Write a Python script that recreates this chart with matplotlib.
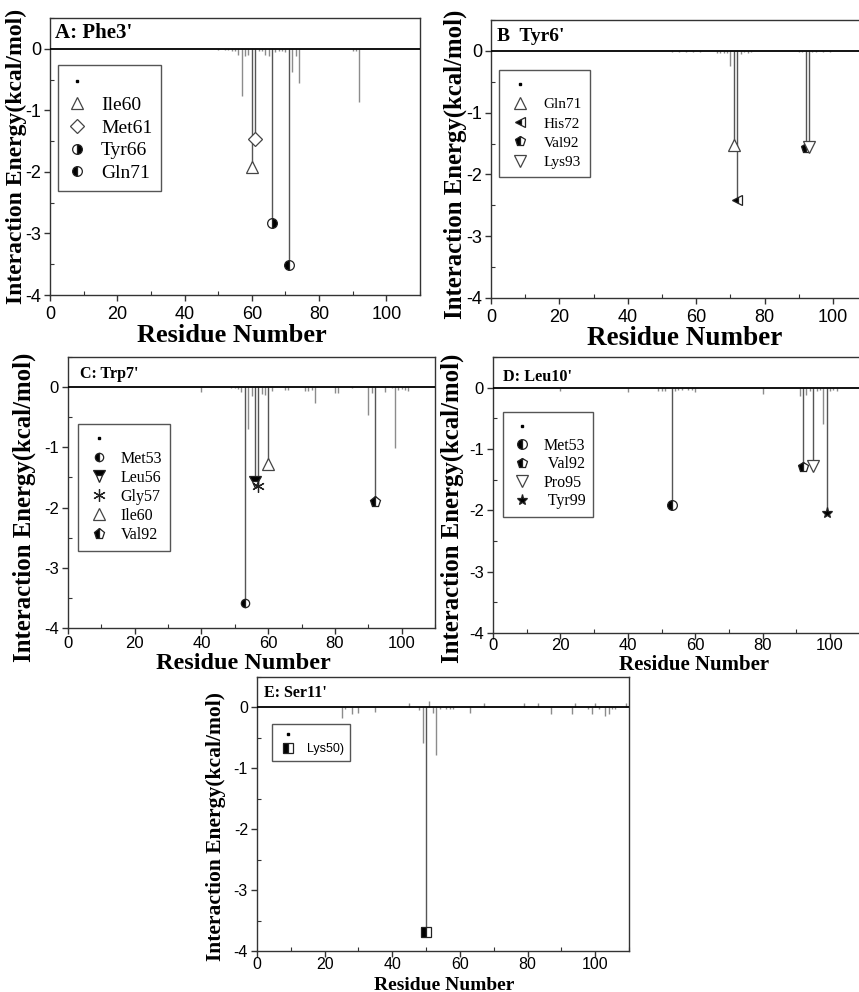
import matplotlib
matplotlib.use('Agg')
import matplotlib.pyplot as plt
from matplotlib.lines import Line2D
from matplotlib.ticker import MultipleLocator

plt.rcParams['axes.unicode_minus'] = False
plt.rcParams['font.family'] = ['Liberation Sans', 'DejaVu Sans']

SERIF = 'Liberation Serif'

# ---------------- data ----------------
# Panel A: Phe3'
resA = [36, 50, 52, 53, 54, 55, 56, 57, 58, 59, 62, 63, 64, 65, 67, 68, 69, 70, 72, 73, 74, 75, 81, 90, 91, 92, 95, 98]
eA = [-0.01, -0.02, -0.02, -0.02, -0.03, -0.03, -0.10, -0.76, -0.12, -0.10, -0.03, -0.04, -0.10, -0.12,
      -0.05, -0.03, -0.04, -0.05, -0.38, -0.12, -0.56, -0.01, -0.01, -0.03, -0.03, -0.87, -0.01, -0.01]
keyResA = [60, 61, 66, 71]
keyEA = [-1.92, -1.47, -2.83, -3.52]
keyLabA = ['Ile60', 'Met61', 'Tyr66', 'Gln71']

# Panel B: Tyr6'
resB = [53, 55, 57, 59, 61, 66, 67, 68, 69, 70, 73, 74, 75, 76, 90, 91, 94, 95, 97, 99]
eB = [-0.01, -0.01, -0.01, -0.01, -0.01, -0.03, -0.03, -0.03, -0.03, -0.24, -0.05, -0.02, -0.03, -0.01,
      -0.02, -0.02, -0.02, -0.01, -0.01, -0.01]
keyResB = [71, 72, 92, 93]
keyEB = [-1.52, -2.42, -1.57, -1.55]
keyLabB = ['Gln71', 'His72', 'Val92', 'Lys93']

# Panel C: Trp7'
resC = [40, 49, 50, 51, 52, 54, 55, 58, 59, 61, 65, 66, 71, 72, 73, 74, 80, 81, 85, 90, 91, 95, 97, 98,
        99, 100, 101, 102]
eC = [-0.08, -0.02, -0.02, -0.03, -0.08, -0.69, -0.14, -0.12, -0.13, -0.07, -0.05, -0.05, -0.07, -0.07,
      -0.04, -0.27, -0.09, -0.09, -0.01, -0.46, -0.09, -0.08, -0.01, -1.01, -0.05, -0.03, -0.04, -0.06]
keyResC = [53, 56, 57, 60, 92]
keyEC = [-3.58, -1.57, -1.65, -1.28, -1.90]
keyLabC = ['Met53', 'Leu56', 'Gly57', 'Ile60', 'Val92']

# Panel D: Leu10'
resD = [20, 40, 49, 50, 51, 54, 55, 56, 58, 59, 60, 68, 72, 73, 74, 80, 86, 91, 93, 94, 96, 97, 98,
        100, 101, 102]
eD = [-0.06, -0.07, -0.05, -0.05, -0.05, -0.05, -0.03, -0.03, -0.03, -0.03, -0.07, -0.01, -0.01, -0.01,
      -0.01, -0.10, -0.01, -0.13, -0.12, -0.06, -0.05, -0.04, -0.60, -0.05, -0.03, -0.06]
keyResD = [53, 92, 95, 99]
keyED = [-1.92, -1.30, -1.27, -2.05]
keyLabD = ['Met53', ' Val92', 'Pro95', ' Tyr99']

# Panel E: Ser11'
resE = [25, 26, 28, 30, 35, 45, 48, 49, 51, 52, 53, 54, 56, 57, 58, 63, 67, 79, 83, 87, 93, 94, 98,
        99, 100, 101, 103, 104, 105, 106, 109]
eE = [-0.18, -0.03, -0.10, -0.09, -0.08, 0.08, -0.05, -0.59, 0.11, -0.09, -0.78, -0.02, -0.02, -0.02,
      -0.02, -0.09, 0.08, 0.08, 0.07, -0.11, -0.11, 0.08, -0.02, -0.11, 0.08, -0.02, -0.14, -0.10,
      -0.02, -0.02, 0.08]
keyResE = [50]
keyEE = [-3.68]
keyLabE = ['Lys50)']

titles = ["A: Phe3'", "B  Tyr6'", "C: Trp7'", "D: Leu10'", "E: Ser11'"]
xlabel = 'Residue Number'
ylabel = 'Interaction Energy(kcal/mol)'

# ---------------- styles ----------------
# marker specs: (marker, fillstyle, size)
mkA = [('^', 'none', 8), ('D', 'none', 7), ('o', 'right', 7), ('o', 'left', 7)]
mkB = [('^', 'none', 8), ('<', 'left', 7), ('p', 'left', 7), ('v', 'none', 8)]
mkC = [('o', 'left', 6), ('v', 'top', 8), ((6, 2, 0), 'full', 9), ('^', 'none', 9), ('p', 'left', 8)]
mkD = [('o', 'left', 7), ('p', 'left', 7), ('v', 'none', 9), ('*', 'full', 8)]
mkE = [('s', 'left', 7)]

W, H = 859, 992
fig = plt.figure(figsize=(W / 100, H / 100), dpi=100)


def add_panel(box, xmax, res, e, kres, ke, klab, mks, title, tcfg, xl, yl, lg, ticks,
              right_spine=True):
    l, r, t, b = box
    ax = fig.add_axes([l / W, 1 - b / H, (r - l) / W, (b - t) / H])
    ax.set_xlim(0, xmax)
    ax.set_ylim(-4, 0.5)
    ax.axhline(0, color='black', lw=1.3, zorder=3)
    ax.vlines(res, 0, e, colors='#8c8c8c', lw=1.0, zorder=2)
    ax.vlines(kres, 0, ke, colors='#555555', lw=1.0, zorder=2)
    handles = []
    for x, y, lab, (m, fs, ms) in zip(kres, ke, klab, mks):
        if fs == 'none':
            h, = ax.plot([x], [y], ls='none', marker=m, ms=ms, mfc='white', mec='#444444', mew=0.9,
                         label=lab, zorder=5)
        elif fs == 'full':
            h, = ax.plot([x], [y], ls='none', marker=m, ms=ms, mfc='black', mec='#222222', mew=0.9,
                         label=lab, zorder=5)
        else:
            h, = ax.plot([x], [y], ls='none', marker=m, ms=ms, fillstyle=fs, mfc='black',
                         markerfacecoloralt='white', mec='#222222', mew=0.9, label=lab, zorder=5)
        handles.append(h)
    for s in ax.spines.values():
        s.set_color('#333333')
        s.set_linewidth(1.0)
    if not right_spine:
        ax.spines['right'].set_visible(False)
    ax.xaxis.set_major_locator(MultipleLocator(20))
    ax.xaxis.set_minor_locator(MultipleLocator(10))
    ax.yaxis.set_major_locator(MultipleLocator(1))
    ax.yaxis.set_minor_locator(MultipleLocator(0.5))
    tsize, xpad = ticks
    ax.tick_params(which='major', direction='out', length=4, width=1, labelsize=tsize, pad=2.5,
                   color='#333333')
    ax.tick_params(axis='x', which='major', pad=xpad)
    ax.tick_params(which='minor', direction='in', length=3, width=0.8, color='#333333')
    # title
    tx, ty, tsz = tcfg
    ax.text(tx, ty, title, transform=ax.transAxes, ha='left', va='center',
            fontsize=tsz, fontweight='bold', family=SERIF)
    # labels
    xx, xy, xsz = xl
    ax.set_xlabel(xlabel, fontsize=xsz, fontweight='bold', family=SERIF)
    ax.xaxis.set_label_coords(xx, xy)
    ax.xaxis.label.set_va('baseline')
    yx, yy, ysz = yl
    ax.set_ylabel(ylabel, fontsize=ysz, fontweight='bold', family=SERIF)
    ax.yaxis.set_label_coords(yx, yy)
    ax.yaxis.label.set_va('center')
    # legend
    (lx, ly), lfs, lfam, bp, hl, htp, ls = lg
    dot = Line2D([], [], ls='none', marker='s', ms=2, color='black')
    leg = ax.legend([dot] + handles, [''] + list(klab), loc='upper left', bbox_to_anchor=(lx, ly),
                    borderaxespad=0, prop={'family': lfam, 'size': lfs}, frameon=True, fancybox=False,
                    edgecolor='#555555', framealpha=1, borderpad=bp, handlelength=hl,
                    handletextpad=htp, labelspacing=ls, numpoints=1)
    leg.get_frame().set_linewidth(1.0)
    return ax


add_panel((50, 420, 18, 295), 110, resA, eA, keyResA, keyEA, keyLabA, mkA, titles[0],
          (0.0135, 0.946, 15), (0.492, -0.170, 19), (-0.091, 0.502, 17),
          ((0.0216, 0.830), 14, SERIF, 0.45, 1.06, 0.7, 0.26), (13, 4))
add_panel((491, 859, 20, 298), 368 / 3.42, resB, eB, keyResB, keyEB, keyLabB, mkB, titles[1],
          (0.016, 0.942, 14), (0.526, -0.169, 19.5), (-0.097, 0.48, 17.8),
          ((0.0217, 0.820), 11, SERIF, 0.55, 1.62, 0.76, 0.36), (13, 4), right_spine=False)
add_panel((68, 435, 357, 628), 110, resC, eC, keyResC, keyEC, keyLabC, mkC, titles[2],
          (0.033, 0.937, 11.5), (0.478, -0.150, 17.5), (-0.12, 0.446, 17.8),
          ((0.027, 0.753), 11.5, SERIF, 0.5, 1.6, 0.58, 0.19), (12, 1.5))
add_panel((493, 859, 357, 633), 366 / 3.37, resD, eD, keyResD, keyED, keyLabD, mkD, titles[3],
          (0.027, 0.928, 11.7), (0.55, -0.135, 15), (-0.112, 0.453, 17.8),
          ((0.027, 0.801), 11.5, SERIF, 0.45, 1.5, 0.6, 0.16), (12, -0.5), right_spine=False)
add_panel((257, 629, 677, 951), 110, resE, eE, keyResE, keyEE, keyLabE, mkE, titles[4],
          (0.019, 0.942, 11.5), (0.503, -0.141, 14), (-0.11, 0.453, 15.5),
          ((0.040, 0.830), 9, 'Liberation Sans', 0.5, 1.56, 0.74, 0.1), (11.5, 0.3))

fig.savefig('out.png', dpi=100)
